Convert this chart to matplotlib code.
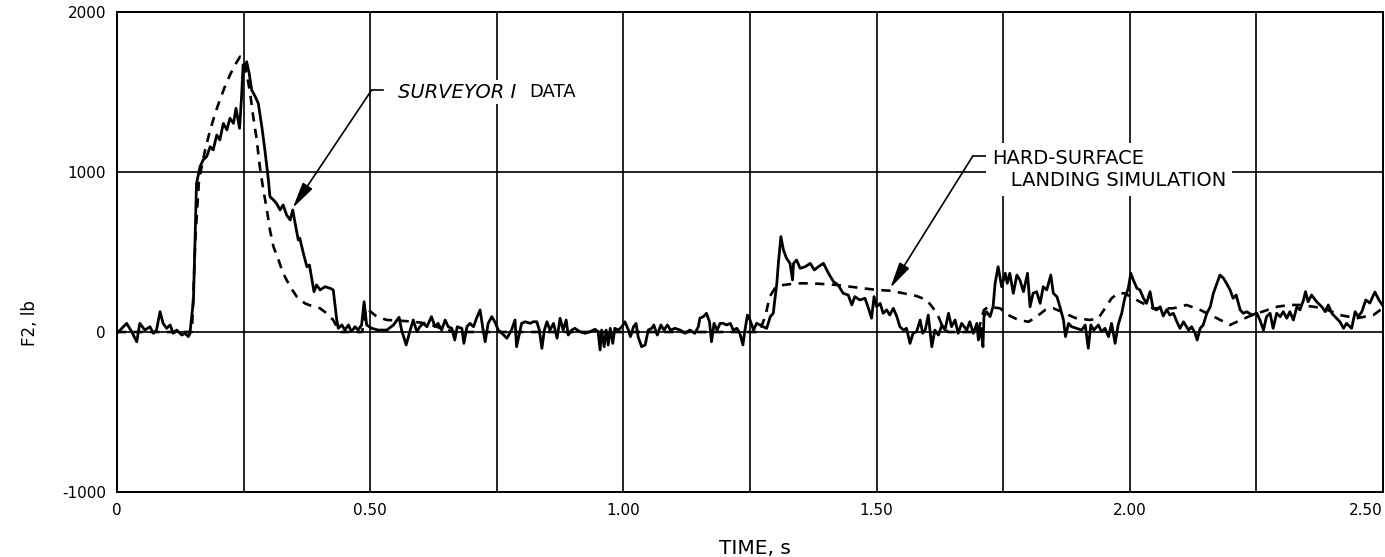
import numpy as np
import matplotlib.pyplot as plt

# Surveyor I strain-gage leg force F2 (lb) versus time (s)
t_data = [0.000, 0.019, 0.029, 0.039, 0.045, 0.055, 0.065, 0.072, 0.078, 0.085, 0.091, 0.098, 0.105,
          0.111, 0.118, 0.128, 0.134, 0.141, 0.144, 0.151, 0.154, 0.157, 0.164, 0.170, 0.177, 0.184,
          0.190, 0.197, 0.203, 0.210, 0.217, 0.223, 0.230, 0.235, 0.242, 0.246, 0.249, 0.253, 0.256,
          0.261, 0.266, 0.273, 0.279, 0.286, 0.292, 0.299, 0.302, 0.309, 0.315, 0.322, 0.328, 0.335,
          0.342, 0.347, 0.353, 0.358, 0.361, 0.368, 0.375, 0.380, 0.384, 0.389, 0.394, 0.401, 0.411,
          0.421, 0.427, 0.434, 0.437, 0.444, 0.450, 0.457, 0.463, 0.470, 0.476, 0.483, 0.488, 0.493,
          0.503, 0.516, 0.533, 0.546, 0.557, 0.562, 0.571, 0.579, 0.585, 0.592, 0.598, 0.605, 0.612,
          0.621, 0.628, 0.634, 0.641, 0.648, 0.654, 0.661, 0.667, 0.672, 0.681, 0.685, 0.691, 0.697,
          0.704, 0.710, 0.717, 0.722, 0.727, 0.733, 0.740, 0.746, 0.753, 0.760, 0.770, 0.779, 0.786,
          0.789, 0.796, 0.799, 0.806, 0.816, 0.822, 0.829, 0.834, 0.839, 0.844, 0.849, 0.855, 0.862,
          0.869, 0.875, 0.881, 0.887, 0.891, 0.898, 0.904, 0.914, 0.924, 0.934, 0.944, 0.950, 0.954,
          0.957, 0.962, 0.966, 0.970, 0.974, 0.979, 0.983, 0.990, 0.997, 1.003, 1.010, 1.014, 1.020,
          1.025, 1.029, 1.036, 1.043, 1.049, 1.056, 1.060, 1.067, 1.074, 1.080, 1.087, 1.093, 1.102,
          1.112, 1.122, 1.131, 1.141, 1.148, 1.151, 1.158, 1.164, 1.170, 1.174, 1.179, 1.185, 1.191,
          1.197, 1.204, 1.211, 1.217, 1.224, 1.230, 1.236, 1.240, 1.245, 1.250, 1.257, 1.263, 1.270,
          1.276, 1.283, 1.290, 1.296, 1.299, 1.303, 1.306, 1.311, 1.316, 1.322, 1.329, 1.334, 1.336,
          1.342, 1.349, 1.359, 1.369, 1.377, 1.385, 1.395, 1.405, 1.415, 1.424, 1.434, 1.444, 1.451,
          1.457, 1.467, 1.477, 1.484, 1.490, 1.495, 1.500, 1.507, 1.513, 1.520, 1.526, 1.533, 1.540,
          1.546, 1.553, 1.559, 1.566, 1.572, 1.579, 1.586, 1.591, 1.596, 1.602, 1.609, 1.615, 1.622,
          1.629, 1.635, 1.642, 1.648, 1.655, 1.661, 1.668, 1.678, 1.684, 1.691, 1.698, 1.701, 1.706,
          1.710, 1.712, 1.717, 1.724, 1.730, 1.734, 1.740, 1.747, 1.754, 1.758, 1.763, 1.770, 1.777,
          1.783, 1.790, 1.798, 1.803, 1.809, 1.816, 1.823, 1.829, 1.836, 1.844, 1.849, 1.856, 1.862,
          1.869, 1.873, 1.879, 1.885, 1.895, 1.905, 1.912, 1.918, 1.923, 1.929, 1.938, 1.944, 1.951,
          1.958, 1.964, 1.971, 1.977, 1.984, 1.990, 1.997, 2.002, 2.007, 2.014, 2.020, 2.027, 2.033,
          2.040, 2.046, 2.053, 2.060, 2.066, 2.073, 2.079, 2.086, 2.093, 2.099, 2.106, 2.116, 2.122,
          2.129, 2.133, 2.139, 2.145, 2.152, 2.159, 2.165, 2.172, 2.178, 2.185, 2.191, 2.198, 2.204,
          2.210, 2.218, 2.224, 2.231, 2.241, 2.251, 2.257, 2.264, 2.270, 2.277, 2.283, 2.290, 2.297,
          2.303, 2.310, 2.316, 2.323, 2.330, 2.336, 2.343, 2.347, 2.352, 2.359, 2.369, 2.379, 2.386,
          2.392, 2.399, 2.405, 2.415, 2.422, 2.428, 2.438, 2.445, 2.451, 2.458, 2.466, 2.474, 2.484,
          2.492, 2.500]
f_data = [-8, 54, 2, -61, 54, 12, 33, -8, 12, 127, 54, 23, 44,
          -8, 12, -19, -8, -29, -8, 200, 575, 929, 1033, 1075, 1096, 1158,
          1138, 1231, 1200, 1304, 1263, 1336, 1304, 1398, 1273, 1471, 1669, 1627, 1689,
          1617, 1513, 1471, 1429, 1283, 1138, 950, 846, 825, 804, 763, 794, 731,
          700, 763, 658, 575, 586, 492, 408, 419, 346, 252, 294, 263, 283,
          273, 263, 75, 23, 44, 12, 44, 2, 33, 12, 44, 189, 44,
          23, 12, 12, 44, 92, 12, -81, 12, 75, 2, 33, 54, 33,
          96, 33, 54, 12, 75, 33, 23, -50, 33, 23, -71, 33, 54,
          33, 86, 138, 33, -61, 54, 96, 64, 12, -8, -39, 12, 75,
          -92, 12, 54, 64, 54, 64, 64, 12, -102, 12, 64, 12, 54,
          -39, 86, 12, 75, -19, 12, 23, 2, -8, 2, 17, 2, -112,
          12, -92, 12, -81, 23, -71, 23, 12, 33, 64, 12, -29, 33,
          54, -29, -92, -81, 12, 23, 44, -19, 44, 12, 44, 12, 23,
          12, -8, 12, -8, 33, 86, 96, 117, 64, -61, 54, 12, 54,
          54, 44, 54, 12, 23, -8, -81, 12, 106, 75, 12, 54, 44,
          33, 23, 96, 117, 200, 304, 429, 596, 513, 461, 429, 325, 429,
          450, 398, 408, 429, 388, 408, 429, 367, 314, 294, 242, 231, 169,
          221, 200, 211, 148, 86, 221, 158, 179, 117, 138, 106, 148, 96,
          33, 12, 23, -71, -8, 2, 75, -8, 12, 106, -92, 12, -19,
          44, 12, 117, 33, 75, -8, 54, 12, 64, -8, 54, -50, 23,
          -92, 96, 127, 96, 158, 304, 408, 283, 367, 304, 367, 242, 356,
          325, 252, 367, 158, 242, 252, 179, 283, 263, 356, 242, 221, 158,
          75, -29, 54, 33, 23, 12, 44, -102, 44, 12, 44, 2, 23,
          -29, 54, -71, 44, 117, 211, 273, 367, 325, 273, 263, 211, 179,
          252, 148, 138, 158, 100, 140, 106, 117, 64, 23, 64, 12, 33,
          -8, -50, 23, 44, 117, 158, 242, 304, 356, 336, 304, 263, 211,
          231, 138, 117, 127, 106, 117, 75, 12, 96, 117, 23, 117, 96,
          127, 86, 127, 75, 158, 138, 200, 252, 189, 231, 189, 158, 127,
          169, 117, 96, 64, 23, 54, 23, 127, 96, 125, 200, 181, 250,
          200, 163]

# hard-surface landing simulation
t_sim = [0.000, 0.148, 0.155, 0.162, 0.174, 0.184, 0.194, 0.203, 0.213, 0.223, 0.233, 0.243, 0.249,
         0.256, 0.263, 0.269, 0.276, 0.282, 0.289, 0.296, 0.302, 0.309, 0.319, 0.328, 0.342, 0.355,
         0.371, 0.388, 0.401, 0.414, 0.427, 0.434, 0.442, 0.484, 0.492, 0.513, 0.533, 0.559, 0.585,
         0.612, 0.638, 0.667, 1.268, 1.280, 1.289, 1.299, 1.316, 1.342, 1.368, 1.395, 1.421, 1.448,
         1.474, 1.500, 1.526, 1.553, 1.579, 1.599, 1.612, 1.622, 1.629, 1.641, 1.700, 1.712, 1.721,
         1.744, 1.760, 1.780, 1.800, 1.816, 1.833, 1.849, 1.862, 1.892, 1.921, 1.938, 1.951, 1.964,
         1.977, 1.990, 2.007, 2.020, 2.046, 2.086, 2.112, 2.139, 2.172, 2.198, 2.219, 2.242, 2.291,
         2.316, 2.336, 2.381, 2.415, 2.448, 2.481, 2.500]
f_sim = [0, 0, 600, 950, 1138, 1263, 1367, 1450, 1533, 1606, 1669, 1721, 1700,
         1617, 1492, 1346, 1200, 1033, 888, 763, 638, 533, 450, 367, 283, 221,
         179, 158, 148, 117, 75, 33, 0, 0, 150, 96, 75, 71, 64,
         54, 25, 0, 0, 96, 221, 273, 294, 304, 304, 300, 294, 283,
         273, 263, 258, 242, 225, 200, 148, 96, 44, 0, 0, 138, 158,
         148, 106, 75, 64, 96, 138, 148, 131, 88, 75, 86, 148, 211,
         242, 242, 211, 189, 148, 148, 169, 138, 86, 44, 75, 106, 158,
         169, 169, 150, 106, 86, 106, 150]

x_ticks = [0, 0.5, 1.0, 1.5, 2.0, 2.5]
x_labels = ['0', '0.50', '1.00', '1.50', '2.00', '2.50']
x_grid = [0.25, 0.75, 1.25, 1.75, 2.25]
y_ticks = [-1000, 0, 1000, 2000]
y_labels = ['-1000', '0', '1000', '2000']

fig = plt.figure(figsize=(13.85, 5.57), dpi=100)
ax = fig.add_axes([117/1385, 1 - 492/557, 1266/1385, 480/557])

ax.plot(t_data, f_data, color='k', lw=2.0, solid_joinstyle='round', zorder=3)
ax.plot(t_sim, f_sim, color='k', lw=1.9, linestyle=(0, (3.5, 2.8)), zorder=3)

ax.set_xlim(0, 2.5)
ax.set_ylim(-1000, 2000)
ax.set_xticks(x_ticks)
ax.set_xticklabels(x_labels, fontsize=11)
ax.set_xticks(x_grid, minor=True)
ax.set_yticks(y_ticks)
ax.set_yticklabels(y_labels, fontsize=11)
ax.tick_params(which='both', length=0, pad=8)
# last time label sits inside the right edge
ax.get_xticklabels()[-1].set_horizontalalignment('right')
ax.grid(which='both', color='k', lw=1.2)
ax.set_axisbelow(True)
for s in ax.spines.values():
    s.set_linewidth(1.4)

fig.text(0.022, 0.42, 'F2, lb', rotation=90, fontsize=12, va='center', ha='center')
fig.text(0.545, 0.016, 'TIME, s', fontsize=14.5, va='center', ha='center')

# callouts
ax.plot([0.503, 0.525], [1513, 1513], color='k', lw=1.2, zorder=4)
ax.annotate('', xy=(0.347, 775), xytext=(0.503, 1513),
            arrowprops=dict(arrowstyle='-|>,head_length=1.6,head_width=0.35', color='k', lw=1.2,
                            shrinkA=0, shrinkB=0), zorder=4)
ax.text(0.555, 1500, 'SURVEYOR I', fontsize=14, style='italic', va='center', ha='left',
        bbox=dict(fc='white', ec='none', pad=2), zorder=4)
ax.text(0.815, 1500, 'DATA', fontsize=13, va='center', ha='left',
        bbox=dict(fc='white', ec='none', pad=2), zorder=4)

ax.plot([1.690, 1.718], [1100, 1100], color='k', lw=1.2, zorder=4)
ax.annotate('', xy=(1.527, 275), xytext=(1.690, 1100),
            arrowprops=dict(arrowstyle='-|>,head_length=1.6,head_width=0.35', color='k', lw=1.2,
                            shrinkA=0, shrinkB=0), zorder=4)
ax.text(1.728, 1015, 'HARD-SURFACE\n   LANDING SIMULATION', fontsize=14, va='center', ha='left',
        linespacing=1.2, bbox=dict(fc='white', ec='none', pad=4), zorder=4)

fig.savefig('out.png', dpi=100)
